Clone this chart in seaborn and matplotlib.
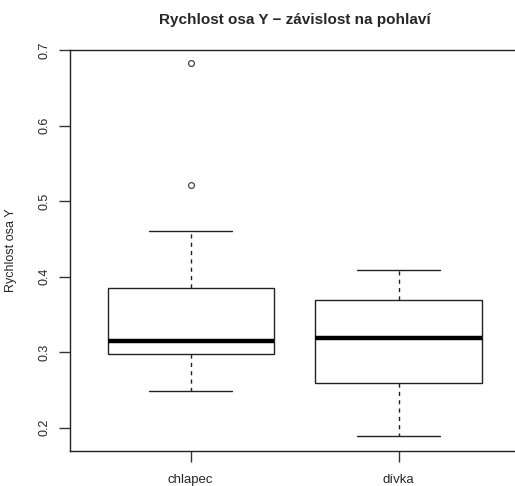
import numpy as np
import pandas as pd
import matplotlib
matplotlib.use("Agg")
import matplotlib.pyplot as plt
import seaborn as sns

# ── data ──────────────────────────────────────────────────────────────────────
groups = ["chlapec", "dívka"]
chlapec = [0.248, 0.270, 0.290, 0.297, 0.300, 0.310, 0.315,
           0.330, 0.360, 0.385, 0.460, 0.522, 0.683]
divka = [0.189, 0.230, 0.259, 0.290, 0.319, 0.340, 0.369, 0.390, 0.409]
yticks = [0.2, 0.3, 0.4, 0.5, 0.6, 0.7]

df = pd.DataFrame({
    "pohlavi": [groups[0]] * len(chlapec) + [groups[1]] * len(divka),
    "rychlost": chlapec + divka,
})

# ── plot ──────────────────────────────────────────────────────────────────────
sns.set_style("white")
plt.rcParams["font.family"] = ["Liberation Sans", "DejaVu Sans"]

W, H = 515, 486
fig = plt.figure(figsize=(W / 100, H / 100), dpi=100)
left, right, top, bottom = 70.1, 519.3, 50.0, 450.7
ax = fig.add_axes([left / W, 1 - bottom / H, (right - left) / W, (bottom - top) / H])

sns.boxplot(
    data=df, x="pohlavi", y="rychlost", order=groups, ax=ax,
    width=0.8, whis=1.5, color="white", linecolor="#222222", linewidth=1.0,
    fliersize=4.2,
    medianprops=dict(linewidth=3.2, color="black"),
    whiskerprops=dict(linestyle=(0, (3, 3))),
    flierprops=dict(marker="o", markerfacecolor="none",
                    markeredgecolor="#444444", markeredgewidth=0.9),
)

ax.set_xlim(-0.58, 1.58)
ax.set_ylim(0.1695, 0.7004)
ax.set_yticks(yticks)
ax.set_yticklabels([f"{t:.1f}" for t in yticks])
ax.tick_params(axis="both", direction="out", length=8, width=1,
               color="#333333", labelsize=9, left=True, bottom=True)
ax.tick_params(axis="x", labelsize=9.5, pad=9)
ax.tick_params(axis="y", labelrotation=90, pad=6)
for lbl in ax.get_yticklabels():
    lbl.set_va("center")

for s in ax.spines.values():
    s.set_visible(True)
    s.set_color("#222222")
    s.set_linewidth(1.0)

ax.set_xlabel("")
ax.set_ylabel("Rychlost osa Y", fontsize=9)
ax.yaxis.set_label_coords(-0.118, 0.5)
ax.set_title("Rychlost osa Y − závislost na pohlaví",
             fontsize=11, fontweight="bold", pad=19)

plt.savefig("out.png", dpi=100)
